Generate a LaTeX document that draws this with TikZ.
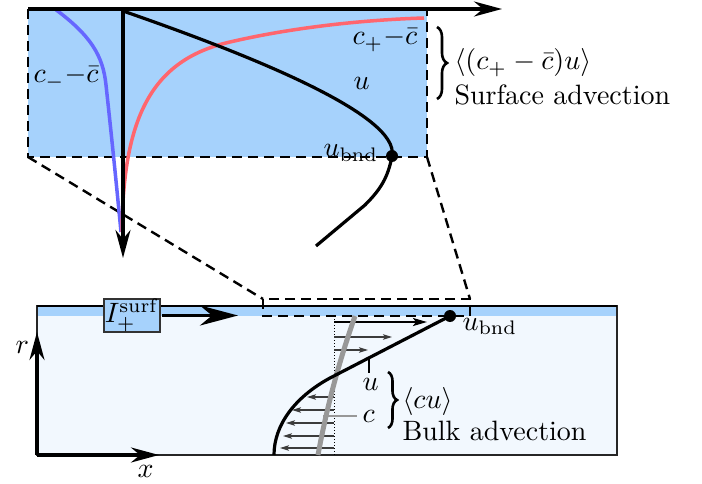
\documentclass[tikz,border=0pt]{standalone}
\usetikzlibrary{arrows.meta,decorations.pathreplacing}
\definecolor{surfblue}{RGB}{166,210,252}
\definecolor{bulkblue}{RGB}{242,248,254}
\definecolor{cplus}{RGB}{255,102,110}
\definecolor{cminus}{RGB}{102,102,255}
\definecolor{cgray}{RGB}{152,152,152}
\definecolor{vgray}{RGB}{60,60,60}
\tikzset{
  lbl/.style={inner sep=0pt, scale=2.8},
  axis/.style={line width=3.2pt, -{Stealth[length=28pt,width=15pt,inset=9pt]}},
  zoomdash/.style={line width=2.4pt, dash pattern=on 10pt off 6pt},
  curve/.style={line width=3.2pt},
  bracestyle/.style={line width=2.6pt, decorate, decoration={brace, amplitude=10pt}},
  vthin/.style={vgray, line width=1.3pt, -{Stealth[length=9pt,width=5.5pt,inset=2pt]}},
}
\begin{document}
\begin{tikzpicture}[x=1pt,y=-1pt]
\useasboundingbox (0,0) rectangle (702,484);
% ---------- top panel ----------
\fill[surfblue] (28,9) rectangle (427,157);
\draw[zoomdash] (28,9) -- (28,157) -- (427,157) -- (427,9);
\draw[zoomdash] (28,157) -- (263,299);
\draw[zoomdash] (427,157) -- (470,299);
\draw[cminus, line width=3.5pt] (55,9) .. controls (90,35) and (103,55) .. (106,85) .. controls (112,140) and (117,190) .. (121,232);
\draw[cplus, line width=3.5pt] (122,232) .. controls (123,120) and (150,60) .. (230,42) .. controls (290,28) and (360,20) .. (424,18);
\draw[curve] (123,11) .. controls (250,55) and (400,115) .. (392,156) .. controls (388,178) and (380,190) .. (365,205) -- (316,246);
\fill (392,156) circle (6pt);
\draw[axis] (28,9) -- (502,9);
\draw[axis] (123,9) -- (123,258);
\node[lbl, anchor=base west] (lcm) at (33,83) {$c_-{-}\bar{c}$};
\node[lbl, anchor=base west] (lcp) at (352,45) {$c_+{-}\bar{c}$};
\node[lbl, anchor=base west] (lu1) at (353,90) {$u$};
\node[lbl, anchor=base west] (lub1) at (323,157) {$u_{\mathrm{bnd}}$};
\draw[bracestyle] (437,27) -- (437,99);
\node[lbl, anchor=base west] (sflux) at (454,70) {$\langle (c_+-\bar{c})u\rangle$};
\node[lbl, anchor=base west] (stext) at (454,105) {Surface advection};
% ---------- bottom panel ----------
\fill[bulkblue] (37,306) rectangle (617,455);
\fill[surfblue] (37,306) rectangle (617,316);
\draw[line width=1.6pt, black!85] (37,306) rectangle (617,455);
\draw[line width=2pt] (37,306) -- (617,306);
\draw[zoomdash] (263,299) rectangle (470,316);
\draw[dotted, line width=1pt] (334,316) -- (334,455);
\draw[line width=2.2pt, -{Stealth[length=14pt,width=8pt,inset=3pt]}] (334,322) -- (427,322);
\draw[vthin] (334,337) -- (392,337);
\draw[vthin] (334,350) -- (368,350);
\draw[vthin] (334,397) -- (307,397);
\draw[vthin] (334,410) -- (292,410);
\draw[vthin] (334,423) -- (286,423);
\draw[vthin] (334,436) -- (283,436);
\draw[vthin] (334,448) -- (280,448);
\draw[cgray, line width=5pt] (355,316) .. controls (345,345) and (330,390) .. (318,455);
\node[lbl, anchor=base west] (lc) at (362,422) {$c$};
\draw[cgray, line width=2.5pt] (323,416) -- ([xshift=-5pt]lc.west |- 0,416);
\draw[curve] (450,316) -- (330,378) .. controls (295,397) and (274,425) .. (274,455);
\fill (450,316) circle (6pt);
\node[lbl, anchor=base west] (lu2) at (362,390) {$u$};
\draw[line width=2pt] (369,357) -- (369,373);
\draw[bracestyle, decoration={brace, amplitude=9pt}] (388,372) -- (388,428);
\node[lbl, anchor=base west] (bflux) at (402,408) {$\langle cu\rangle$};
\node[lbl, anchor=base west] (btext) at (402,440) {Bulk advection};
\node[lbl, anchor=base west] (lub2) at (462,330) {$u_{\mathrm{bnd}}$};
\draw[axis] (37,455) -- (37,332);
\draw[axis] (37,455) -- (159,455);
\node[lbl, anchor=base west] (lr) at (15,353) {$r$};
\node[lbl, anchor=base west] (lx) at (137,477) {$x$};
\node[draw=black!80, line width=1.5pt, fill=surfblue, scale=2.8, inner sep=0pt, minimum width=20pt, minimum height=11.8pt] (Ibox) at (132,315.5) {$I_+^{\mathrm{surf}}$};
\draw[line width=3.5pt, -{Stealth[length=38pt,width=20pt,inset=12pt]}] (Ibox.east) -- (238,315.5);
\end{tikzpicture}
\end{document}
